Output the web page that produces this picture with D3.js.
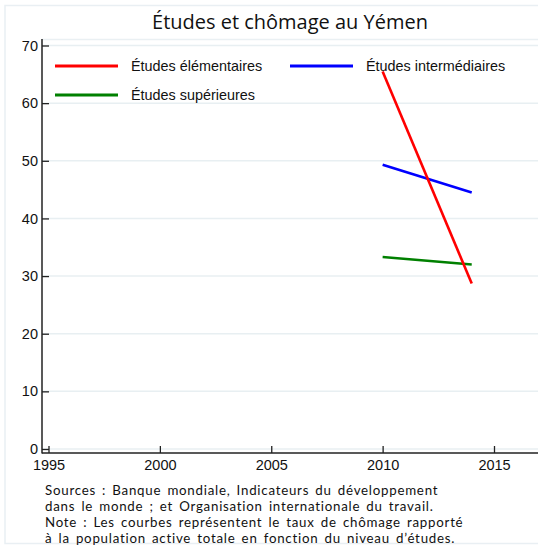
<!DOCTYPE html>
<html><head><meta charset="utf-8">
<script src="https://cdn.jsdelivr.net/npm/d3@7"></script>
<style>body{margin:0;background:#fff}</style>
</head><body>
<svg id="c" width="538" height="546"></svg>
<script>
const years = [2010, 2014];
const seriesNames = ["Études élémentaires", "Études intermédiaires", "Études supérieures"];
const elementaires = [65.5, 28.7];
const intermediaires = [49.3, 44.5];
const superieures = [33.3, 32.0];
const colors = ["#ff0000", "#0000ff", "#008000"];
const xTicks = [1995, 2000, 2005, 2010, 2015];
const yTicks = [0, 10, 20, 30, 40, 50, 60, 70];
const titleText = "Études et chômage au Yémen";
const noteLines = [
  "Sources : Banque mondiale, Indicateurs du développement",
  "dans le monde ; et Organisation internationale du travail.",
  "Note : Les courbes représentent le taux de chômage rapporté",
  "à la population active totale en fonction du niveau d’études."
];

const svg = d3.select("#c");
const x = d3.scaleLinear().domain([1995, 2015]).range([48.5, 494]);
const y = d3.scaleLinear().domain([0, 70]).range([449, 45.5]);
const axisX0 = 42, axisY0 = 453;

// outer light frame
svg.append("rect").attr("x", 5).attr("y", 5.5).attr("width", 540).attr("height", 538)
  .attr("fill", "none").attr("stroke", "#e9eff3").attr("stroke-width", 1.5);
// plot region top border
svg.append("line").attr("x1", axisX0).attr("x2", 540).attr("y1", 39.5).attr("y2", 39.5)
  .attr("stroke", "#eaf0f3").attr("stroke-width", 1.5);

// gridlines
svg.append("g").selectAll("line").data(yTicks).join("line")
  .attr("x1", axisX0).attr("x2", 540).attr("y1", d => y(d)).attr("y2", d => y(d))
  .attr("stroke", "#e8eff2").attr("stroke-width", 1.5);

// Y axis
const yAxis = d3.axisLeft(y).tickValues(yTicks).tickSize(-7).tickPadding(11).tickSizeOuter(0);
const gy = svg.append("g").attr("transform", `translate(${axisX0},0)`).call(yAxis);
gy.select(".domain").remove();
svg.append("line").attr("x1", axisX0).attr("x2", axisX0).attr("y1", 39).attr("y2", axisY0 + 0.5)
  .attr("stroke", "#222").attr("stroke-width", 1.5);
gy.selectAll(".tick line").attr("stroke", "#222").attr("stroke-width", 1.3);
gy.selectAll(".tick text").attr("font-family", "Liberation Sans, Arial, sans-serif")
  .attr("font-size", 14.5).attr("fill", "#111").attr("x", -4);

// X axis
const xAxis = d3.axisBottom(x).tickValues(xTicks).tickFormat(d3.format("d")).tickSize(-7).tickPadding(14).tickSizeOuter(0);
const gx = svg.append("g").attr("transform", `translate(0,${axisY0})`).call(xAxis);
gx.select(".domain").remove();
svg.append("line").attr("x1", axisX0).attr("x2", 540).attr("y1", axisY0).attr("y2", axisY0)
  .attr("stroke", "#222").attr("stroke-width", 1.5);
gx.selectAll(".tick line").attr("stroke", "#222").attr("stroke-width", 1.3);
gx.selectAll(".tick text").attr("font-family", "Liberation Sans, Arial, sans-serif")
  .attr("font-size", 14.5).attr("fill", "#111").attr("dy", "0.2em");

// series
const allSeries = [elementaires, intermediaires, superieures];
const line = d3.line().x((d, i) => x(years[i])).y(d => y(d));
[2, 1, 0].forEach(k => {
  svg.append("path").datum(allSeries[k]).attr("d", line)
    .attr("fill", "none").attr("stroke", colors[k]).attr("stroke-width", 2.6);
});

// legend
const legendPos = [[55, 66], [290, 66], [55, 95]];
seriesNames.forEach((name, k) => {
  const [lx, ly] = legendPos[k];
  svg.append("line").attr("x1", lx).attr("x2", lx + 63).attr("y1", ly).attr("y2", ly)
    .attr("stroke", colors[k]).attr("stroke-width", 3);
  svg.append("text").attr("x", lx + 76).attr("y", ly).attr("dy", "0.35em")
    .attr("font-family", "Liberation Sans, Arial, sans-serif").attr("font-size", 14.4)
    .attr("fill", "#111").text(name);
});

// title
const t = svg.append("text").attr("x", 290).attr("y", 29).attr("text-anchor", "middle")
  .attr("font-family", "Open Sans, sans-serif").attr("font-size", 20).attr("fill", "#111").text(titleText);
const tw = t.node().getComputedTextLength();
t.attr("font-size", 20 * 276 / tw);

// notes (Lato, size limited so line boxes do not overlap)
const noteBase = [494.5, 510.5, 526.5, 542.5];
const noteFs = 13.3;
noteLines.forEach((s, i) => {
  svg.append("text").attr("x", 45).attr("y", noteBase[i])
    .attr("font-family", "Lato, sans-serif").attr("font-size", noteFs)
    .attr("letter-spacing", 0.75).attr("word-spacing", 2).attr("fill", "#111").text(s);
});
</script>
</body></html>
